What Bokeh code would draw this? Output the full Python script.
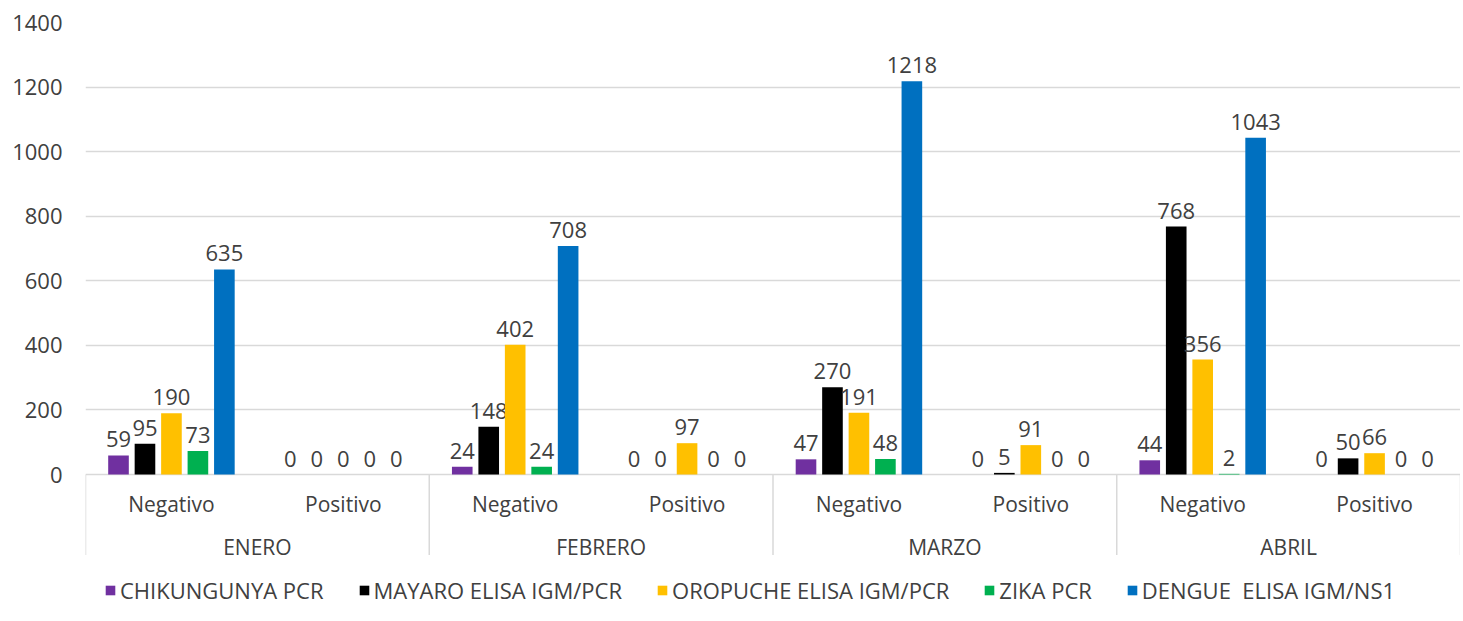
from bokeh.plotting import figure
from bokeh.models import FactorRange, ColumnDataSource, FixedTicker, Range1d, Legend, LegendItem
from bokeh.transform import dodge
from bokeh.core.properties import value
from bokeh.embed import file_html
from bokeh.resources import INLINE

months = ["ENERO", "FEBRERO", "MARZO", "ABRIL"]
results = ["Negativo", "Positivo"]
series_names = ["CHIKUNGUNYA PCR", "MAYARO ELISA IGM/PCR", "OROPUCHE ELISA IGM/PCR", "ZIKA PCR", "DENGUE  ELISA IGM/NS1"]
series_colors = ["#7030A0", "#000000", "#FFC000", "#00B050", "#0070C0"]

# values per (month, result) in order ENERO-Neg, ENERO-Pos, FEBRERO-Neg, ...
chikungunya = [59, 0, 24, 0, 47, 0, 44, 0]
mayaro = [95, 0, 148, 0, 270, 5, 768, 50]
oropuche = [190, 0, 402, 97, 191, 91, 356, 66]
zika = [73, 0, 24, 0, 48, 0, 2, 0]
dengue = [635, 0, 708, 0, 1218, 0, 1043, 0]
series_values = [chikungunya, mayaro, oropuche, zika, dengue]

y_ticks = [0, 200, 400, 600, 800, 1000, 1200, 1400]

FONT = "Open Sans"
TXT = "#404040"
GRID = "#d9d9d9"

# layout (pixels)
TOP = 22
PLOT_H = 452          # height of the 0..1400 value area
FRAME_H = 591         # frame also holds the category labels and legend
y_max = y_ticks[-1]
y_min = -y_max * (FRAME_H - PLOT_H) / PLOT_H

factors = [(m, r) for m in months for r in results]
src = ColumnDataSource(dict(
    x=factors,
    s0=chikungunya, s1=mayaro, s2=oropuche, s3=zika, s4=dengue,
    t0=[str(v) for v in chikungunya], t1=[str(v) for v in mayaro],
    t2=[str(v) for v in oropuche], t3=[str(v) for v in zika], t4=[str(v) for v in dengue],
))

x_range = FactorRange(*factors, factor_padding=0, group_padding=0, range_padding=0)
p = figure(x_range=x_range, y_range=Range1d(y_min, y_max),
           frame_width=1375, frame_height=FRAME_H,
           x_axis_location=None,
           output_backend="svg", toolbar_location=None,
           min_border_left=85, min_border_top=TOP, min_border_right=0, min_border_bottom=0)

p.outline_line_color = None
p.xgrid.grid_line_color = None
p.ygrid.grid_line_color = GRID
p.ygrid.grid_line_width = 1.5

p.yaxis.ticker = FixedTicker(ticks=y_ticks)
p.yaxis.axis_line_color = None
p.yaxis.major_tick_line_color = None
p.yaxis.minor_tick_line_color = None
p.yaxis.major_label_standoff = 17
p.yaxis.major_label_text_font = FONT
p.yaxis.major_label_text_font_size = "22px"
p.yaxis.major_label_text_color = TXT

# category axis drawn inside the frame: separators, result labels, month labels
n_sub = len(results)
bounds = [i * n_sub for i in range(len(months) + 1)]
sep = ColumnDataSource(dict(x=bounds, y0=[0] * len(bounds), y1=[y_min * 0.58] * len(bounds)))
p.segment(x0="x", y0="y0", x1="x", y1="y1", source=sep, line_color=GRID, line_width=1.5)

lab = ColumnDataSource(dict(x=factors, y=[0] * len(factors), t=[f[1] for f in factors]))
p.text(x="x", y="y", text="t", source=lab, text_align="center", text_baseline="middle",
       y_offset=29, text_font=value(FONT), text_font_size="21px", text_color=TXT)
mlab = ColumnDataSource(dict(x=months, y=[0] * len(months), t=months))
p.text(x="x", y="y", text="t", source=mlab, text_align="center", text_baseline="middle",
       y_offset=72, text_font=value(FONT), text_font_size="21px", text_color=TXT)

step = 0.154
width = 0.12
offsets = [-2 * step, -step, 0, step, 2 * step]

items = []
for i, (name, col) in enumerate(zip(series_names, series_colors)):
    r = p.vbar(x=dodge("x", offsets[i], range=p.x_range), top="s%d" % i, width=width,
               source=src, fill_color=col, line_color=None)
    p.text(x=dodge("x", offsets[i], range=p.x_range), y="s%d" % i, text="t%d" % i,
           source=src, text_align="center", text_baseline="bottom", y_offset=-8,
           text_font=value(FONT), text_font_size="22px", text_color=TXT)
    items.append(LegendItem(label=name, renderers=[r]))

legend = Legend(items=items, orientation="horizontal", location=(19, 8),
                glyph_width=12, glyph_height=12, label_standoff=4, spacing=34,
                label_text_font=FONT, label_text_font_size="22px", label_text_color=TXT,
                border_line_color=None, background_fill_alpha=0, padding=2, margin=0)
p.add_layout(legend)

open("out.html", "w").write(file_html(p, INLINE))
